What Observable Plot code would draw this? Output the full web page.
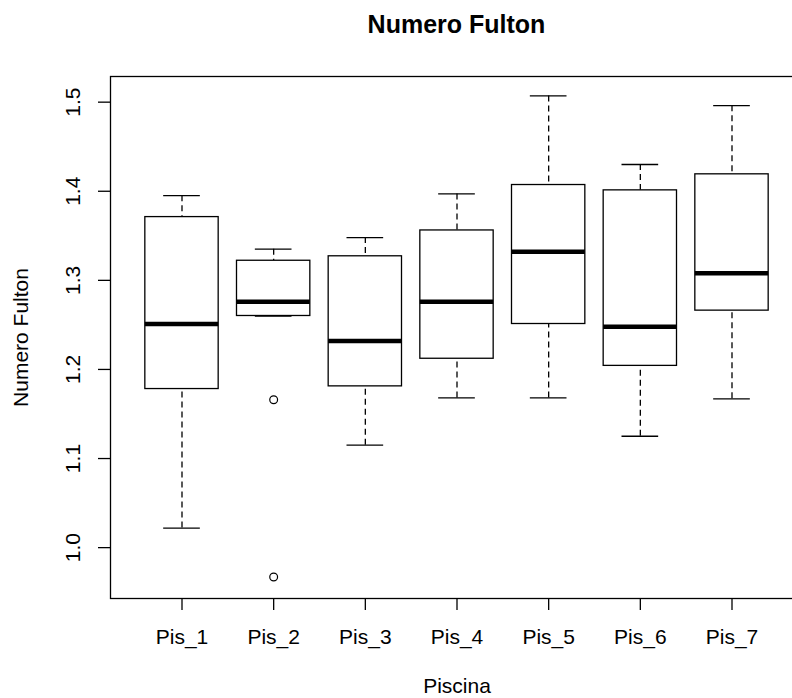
<!DOCTYPE html>
<html>
<head>
<meta charset="utf-8">
<script src="https://cdn.jsdelivr.net/npm/d3@7"></script>
<script src="https://cdn.jsdelivr.net/npm/@observablehq/plot@0.6"></script>
<style>
  html, body { margin: 0; padding: 0; background: #fff; overflow: hidden; }
  #title { height: 50px; box-sizing: border-box; padding-top: 12px; margin-left: 110px; width: 693px;
           text-align: center; font: bold 25px "Liberation Sans", Arial, sans-serif; line-height: 25px; color: #000; }
  #chart { width: 813px; }
  #chart svg { max-width: none !important; }
</style>
</head>
<body>
<div id="title">Numero Fulton</div>
<div id="chart"></div>
<script>
const categories = ["Pis_1", "Pis_2", "Pis_3", "Pis_4", "Pis_5", "Pis_6", "Pis_7"];
const whiskerLow  = [1.022, 1.260, 1.115, 1.168, 1.168, 1.125, 1.167];
const quartile1   = [1.178, 1.260, 1.181, 1.212, 1.251, 1.204, 1.266];
const medians     = [1.251, 1.276, 1.232, 1.276, 1.332, 1.248, 1.308];
const quartile3   = [1.371, 1.322, 1.327, 1.356, 1.407, 1.401, 1.419];
const whiskerHigh = [1.395, 1.335, 1.348, 1.397, 1.507, 1.430, 1.496];
const outlierGroup = ["Pis_2", "Pis_2"];
const outlierValue = [1.166, 0.967];
const yTicks = [1.0, 1.1, 1.2, 1.3, 1.4, 1.5];

const stats = categories.map((c, k) => ({
  c, pos: k + 1,
  lo: whiskerLow[k], q1: quartile1[k], med: medians[k], q3: quartile3[k], hi: whiskerHigh[k]
}));
const outliers = outlierGroup.map((g, k) => ({ pos: categories.indexOf(g) + 1, v: outlierValue[k] }));

const half = 0.4, cap = 0.2;

const chart = Plot.plot({
  width: 813,
  height: 648,
  marginTop: 26,
  marginBottom: 100,
  marginLeft: 110,
  marginRight: 10,
  style: { fontFamily: "'Liberation Sans', Arial, sans-serif", fontSize: "21px", color: "#000", background: "#fff", maxWidth: "none", overflow: "visible" },
  x: { domain: [0.22, 7.78] },
  y: { domain: [0.9429, 1.5288] },
  marks: [
    Plot.ruleX(stats, { x: "pos", y1: "lo", y2: "q1", stroke: "#000", strokeWidth: 1.3, strokeDasharray: "6,4" }),
    Plot.ruleX(stats, { x: "pos", y1: "hi", y2: "q3", stroke: "#000", strokeWidth: 1.3, strokeDasharray: "6,4" }),
    Plot.ruleY(stats, { y: "lo", x1: d => d.pos - cap, x2: d => d.pos + cap, stroke: "#000", strokeWidth: 1.3 }),
    Plot.ruleY(stats, { y: "hi", x1: d => d.pos - cap, x2: d => d.pos + cap, stroke: "#000", strokeWidth: 1.3 }),
    Plot.rect(stats, { x1: d => d.pos - half, x2: d => d.pos + half, y1: "q1", y2: "q3",
                       fill: "#fff", stroke: "#000", strokeWidth: 1.3 }),
    Plot.ruleY(stats, { y: "med", x1: d => d.pos - half, x2: d => d.pos + half, stroke: "#000", strokeWidth: 4.5 }),
    Plot.dot(outliers, { x: "pos", y: "v", r: 3.9, stroke: "#000", strokeWidth: 1.2, fill: "none" }),
    Plot.axisY({
      ticks: yTicks, tickFormat: d3.format(".1f"), tickSize: 12, tickPadding: 19, tickRotate: -90,
      strokeWidth: 1.3, fontSize: 21,
      label: "Numero Fulton", labelAnchor: "center", labelOffset: 97, labelArrow: "none"
    }),
    Plot.axisX({
      ticks: categories.map((c, k) => k + 1), tickFormat: v => categories[v - 1],
      tickSize: 12, tickPadding: 19, strokeWidth: 1.3, fontSize: 21,
      label: "Piscina", labelAnchor: "center", labelOffset: 94, labelArrow: "none"
    }),
    Plot.frame({ stroke: "#000", strokeWidth: 1.3 })
  ]
});
document.getElementById("chart").appendChild(chart);
</script>
</body>
</html>
